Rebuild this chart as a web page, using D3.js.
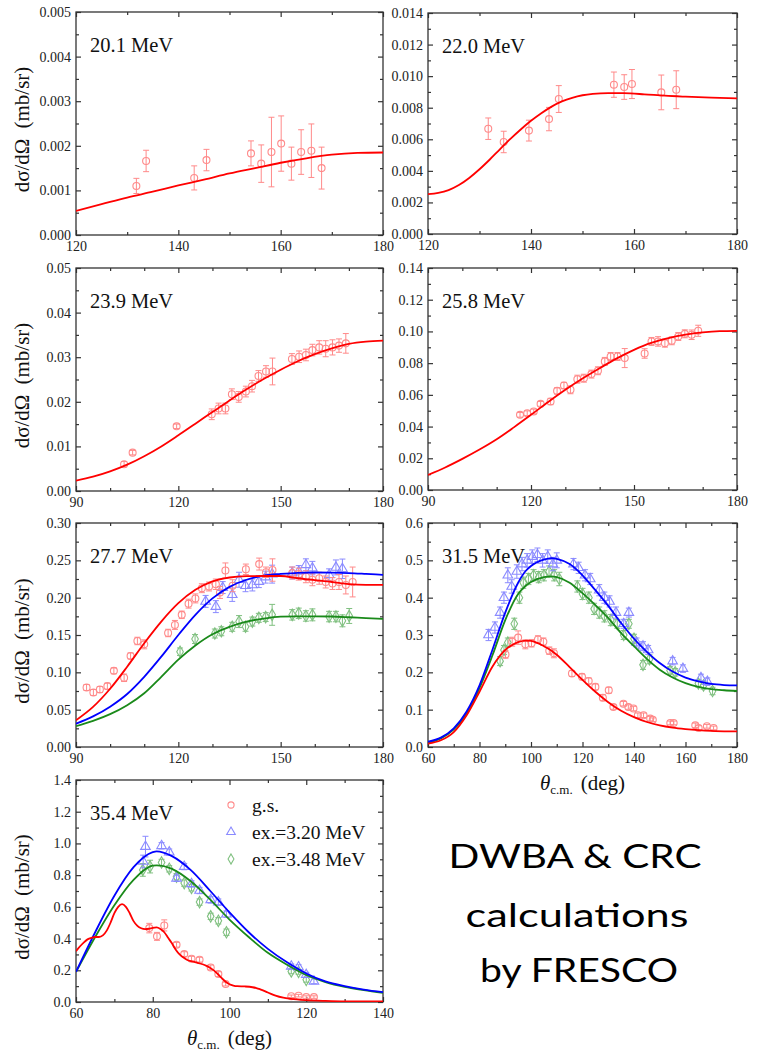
<!DOCTYPE html>
<html><head><meta charset="utf-8">
<script src="https://cdn.jsdelivr.net/npm/d3@7"></script>
<style>
body{margin:0;background:#fff}svg{display:block}
svg text{font-family:"Liberation Serif","Times New Roman",serif}
svg text.note{font-family:Lato,"Open Sans",sans-serif}
</style>
</head><body>
<svg id="c" width="761" height="1053"></svg>
<script>
// ---------- DATA (theta in deg, dsigma/dOmega in mb/sr, error) ----------
// 20.1 MeV
const th201 = [120,125,130,135,140,145,150,155,160,165,170,175,180];
const gs201 = [0.00054,0.00069,0.00084,0.00097,0.00111,0.00124,0.00138,0.00150,0.00162,0.00172,0.00180,0.00184,0.00185];
const exp201 = [[131.8,0.00110,0.00017],[133.7,0.00166,0.00024],[143.1,0.00128,0.00027],[145.5,0.00168,0.00024],[154.2,0.00183,0.00028],[156.2,0.00160,0.00042],[158.2,0.00186,0.00078],[160.1,0.00205,0.00062],[162.1,0.00160,0.00037],[164.0,0.00186,0.00050],[166.0,0.00189,0.00060],[168.0,0.00150,0.00047]];
// 22.0 MeV
const th220 = [120,122,124,126,128,130,132,134,136,138,140,142,144,146,148,150,152,155,158,162,166,170,175,180];
const gs220 = [0.00252,0.00260,0.00278,0.00310,0.00355,0.00410,0.00472,0.00538,0.00602,0.00662,0.00717,0.00765,0.00807,0.00840,0.00863,0.00879,0.00888,0.00893,0.00892,0.00885,0.00876,0.00870,0.00864,0.00859];
const exp220 = [[131.7,0.00667,0.00068],[134.7,0.00583,0.00068],[139.6,0.00655,0.00066],[143.5,0.00728,0.00074],[145.4,0.00855,0.00085],[156.1,0.00946,0.00080],[158.1,0.00931,0.00078],[159.6,0.00950,0.00092],[165.3,0.00897,0.00110],[168.2,0.00914,0.00120]];
// 23.9 MeV
const th239 = [90,95,100,105,110,115,120,125,130,135,140,145,150,155,160,165,170,175,180];
const gs239 = [0.0023,0.0032,0.0044,0.0059,0.0078,0.0100,0.0125,0.0151,0.0177,0.0203,0.0228,0.0251,0.0272,0.0291,0.0307,0.0320,0.0330,0.0335,0.0337];
const exp239 = [[104.1,0.0060,0.0006],[106.6,0.0086,0.0005],[119.5,0.0145,0.0005],[129.8,0.0172,0.0012],[131.8,0.0185,0.0012],[133.8,0.0185,0.0012],[135.7,0.0217,0.0012],[137.7,0.0211,0.0012],[139.8,0.0223,0.0012],[141.6,0.0235,0.0013],[143.5,0.0258,0.0012],[145.7,0.0268,0.0013],[147.6,0.0268,0.0030],[153.3,0.0296,0.0012],[155.4,0.0301,0.0013],[157.4,0.0305,0.0013],[159.3,0.0316,0.0013],[161.3,0.0322,0.0015],[163.2,0.0319,0.0018],[165.2,0.0322,0.0017],[167.1,0.0326,0.0015],[169.1,0.0331,0.0022]];
// 25.8 MeV
const th258 = [90,95,100,105,110,115,120,125,130,135,140,145,150,155,160,165,170,175,180];
const gs258 = [0.0095,0.0142,0.0196,0.0255,0.0320,0.0395,0.0474,0.0555,0.0632,0.0703,0.0768,0.0830,0.0884,0.0928,0.0958,0.0980,0.0994,0.1002,0.1004];
const exp258 = [[116.8,0.0474,0.0015],[118.9,0.0484,0.0015],[120.8,0.0495,0.0015],[122.8,0.0543,0.0015],[125.7,0.0558,0.0020],[127.6,0.0625,0.0020],[129.6,0.0659,0.0020],[131.5,0.0632,0.0025],[133.5,0.0699,0.0025],[135.4,0.0705,0.0025],[137.6,0.0731,0.0025],[139.5,0.0752,0.0025],[141.5,0.0811,0.0025],[143.2,0.0842,0.0025],[145.2,0.0842,0.0025],[147.3,0.0832,0.0060],[153.1,0.0861,0.0030],[155.1,0.0937,0.0025],[157.0,0.0937,0.0030],[159.0,0.0926,0.0025],[161.0,0.0941,0.0025],[162.9,0.0968,0.0025],[164.8,0.0985,0.0025],[166.8,0.0979,0.0030],[168.7,0.1004,0.0035]];
// 27.7 MeV
const th277 = [90,95,100,105,110,115,120,125,130,135,140,145,150,155,160,165,170,175,180];
const gs277 = [0.0358,0.0537,0.078,0.1075,0.139,0.168,0.1926,0.2105,0.2217,0.227,0.2288,0.229,0.229,0.226,0.2235,0.221,0.218,0.217,0.217];
const ex320_277 = [0.0313,0.041,0.054,0.071,0.094,0.121,0.150,0.177,0.199,0.2145,0.224,0.2295,0.2318,0.2333,0.2337,0.2335,0.2329,0.2318,0.2306];
const ex348_277 = [0.028,0.035,0.044,0.056,0.072,0.094,0.117,0.136,0.151,0.161,0.168,0.172,0.1745,0.175,0.175,0.1748,0.1738,0.1725,0.1715];
const expGs277 = [[93.1,0.0797,0.004],[95.1,0.073,0.004],[97.0,0.077,0.004],[99.2,0.0815,0.004],[101.1,0.102,0.004],[104.1,0.0927,0.005],[106.0,0.122,0.004],[108.0,0.142,0.005],[110.0,0.1375,0.006],[117.0,0.1527,0.005],[119.0,0.1635,0.006],[121.0,0.177,0.005],[123.0,0.192,0.006],[125.0,0.199,0.006],[126.9,0.2127,0.006],[129.0,0.215,0.006],[131.0,0.218,0.007],[132.2,0.207,0.008],[133.8,0.2365,0.010],[135.9,0.216,0.008],[139.8,0.238,0.007],[143.7,0.245,0.008],[145.7,0.234,0.007],[147.6,0.237,0.015],[153.4,0.233,0.008],[155.3,0.2315,0.008],[157.4,0.228,0.008],[159.3,0.224,0.008],[161.3,0.226,0.008],[163.2,0.221,0.008],[165.2,0.219,0.008],[167.1,0.221,0.010],[169.1,0.217,0.012],[171.1,0.221,0.020]];
const expEx320_277 = [[128.0,0.195,0.008],[131.0,0.188,0.008],[133.0,0.2135,0.008],[135.8,0.204,0.009],[137.8,0.224,0.010],[139.7,0.216,0.008],[141.7,0.217,0.008],[143.6,0.2215,0.008],[145.6,0.2275,0.008],[147.5,0.2315,0.012],[153.4,0.233,0.008],[155.3,0.235,0.008],[157.4,0.244,0.008],[159.3,0.2396,0.009],[164.2,0.2306,0.008],[166.2,0.2405,0.010],[168.1,0.2387,0.013]];
const expEx348_277 = [[120.5,0.1276,0.005],[124.9,0.1446,0.006],[130.7,0.152,0.006],[132.6,0.155,0.006],[135.8,0.161,0.006],[137.8,0.168,0.008],[139.7,0.161,0.006],[141.7,0.168,0.006],[143.6,0.173,0.006],[145.6,0.174,0.006],[147.5,0.177,0.014],[153.4,0.177,0.007],[155.3,0.179,0.007],[157.4,0.1755,0.007],[159.3,0.177,0.008],[164.2,0.1747,0.007],[166.2,0.1747,0.007],[168.1,0.169,0.008],[170.1,0.1755,0.010]];
// 31.5 MeV
const th315 = [60,65,70,75,80,85,90,95,98,100,105,108,110,115,120,125,130,135,140,145,150,155,160,165,170,175,180];
const gs315 = [0.009,0.018,0.040,0.085,0.148,0.215,0.260,0.281,0.285,0.284,0.270,0.258,0.247,0.214,0.180,0.148,0.120,0.097,0.080,0.067,0.058,0.052,0.048,0.045,0.043,0.042,0.042];
const ex320_315 = [0.014,0.025,0.050,0.095,0.165,0.260,0.360,0.440,0.472,0.485,0.502,0.506,0.504,0.490,0.460,0.420,0.378,0.332,0.290,0.255,0.225,0.202,0.186,0.176,0.169,0.166,0.165];
const ex348_315 = [0.012,0.023,0.047,0.090,0.158,0.245,0.340,0.410,0.432,0.442,0.455,0.457,0.455,0.440,0.412,0.380,0.345,0.305,0.270,0.236,0.207,0.186,0.171,0.161,0.155,0.152,0.150];
const expGs315 = [[90.1,0.248,0.010],[92.7,0.282,0.012],[95.0,0.293,0.018],[97.8,0.275,0.012],[100.2,0.278,0.010],[102.7,0.288,0.010],[104.8,0.282,0.010],[107.1,0.258,0.010],[108.9,0.251,0.012],[115.9,0.197,0.008],[119.8,0.188,0.008],[122.4,0.177,0.008],[125.0,0.161,0.008],[127.9,0.132,0.008],[130.2,0.152,0.008],[132.0,0.107,0.006],[135.9,0.116,0.006],[137.8,0.107,0.006],[139.8,0.103,0.006],[141.5,0.085,0.006],[143.7,0.085,0.006],[146.3,0.076,0.006],[147.3,0.073,0.005],[154.1,0.0645,0.005],[155.4,0.0645,0.005],[163.8,0.058,0.006],[165.1,0.051,0.006],[168.3,0.0555,0.005],[170.9,0.051,0.005]];
const expEx320_315 = [[83.5,0.30,0.015],[86.0,0.32,0.015],[88.0,0.36,0.015],[89.5,0.40,0.015],[91.0,0.46,0.020],[92.5,0.43,0.018],[94.5,0.47,0.018],[96.5,0.49,0.018],[98.5,0.50,0.018],[100.5,0.51,0.018],[102.5,0.515,0.018],[104.5,0.50,0.018],[106.5,0.51,0.018],[108.5,0.49,0.018],[110.0,0.50,0.020],[116.5,0.49,0.015],[118.5,0.48,0.015],[121.0,0.46,0.015],[123.0,0.45,0.015],[126.5,0.42,0.015],[128.5,0.40,0.015],[130.5,0.39,0.015],[133.0,0.36,0.015],[136.0,0.33,0.012],[138.0,0.36,0.012],[141.0,0.28,0.012],[143.5,0.27,0.012],[145.5,0.26,0.012],[155.0,0.23,0.010],[159.0,0.21,0.010],[166.0,0.185,0.010],[168.5,0.175,0.010]];
const expEx348_315 = [[88.0,0.23,0.012],[89.5,0.26,0.012],[91.0,0.28,0.012],[93.5,0.33,0.015],[95.5,0.40,0.015],[97.0,0.44,0.015],[99.0,0.45,0.015],[101.0,0.46,0.015],[103.0,0.455,0.015],[105.0,0.46,0.015],[107.0,0.47,0.015],[109.0,0.46,0.015],[111.0,0.45,0.018],[118.0,0.43,0.015],[120.0,0.41,0.015],[122.5,0.40,0.015],[124.5,0.37,0.015],[126.5,0.36,0.015],[128.5,0.35,0.015],[131.0,0.34,0.015],[133.5,0.33,0.012],[136.0,0.30,0.012],[138.0,0.33,0.012],[140.0,0.29,0.012],[143.5,0.22,0.012],[146.0,0.235,0.012],[154.0,0.205,0.010],[156.0,0.20,0.010],[165.0,0.17,0.010],[167.0,0.165,0.010],[170.5,0.15,0.010]];
// 35.4 MeV
const th354g = [60,61,62,63,64,65,66,67,68,69,70,71,72,73,74,75,76,77,78,79,80,81,82,83,84,85,86,87,88,89,90,91,92,93,94,95,96,97,98,99,100,101,102,104,106,107,108,110,112,114,116,120,125,130,140];
const gs354 = [0.32,0.35,0.375,0.395,0.405,0.41,0.41,0.42,0.45,0.50,0.56,0.60,0.617,0.60,0.56,0.51,0.48,0.465,0.46,0.462,0.468,0.47,0.46,0.44,0.405,0.37,0.33,0.30,0.28,0.265,0.258,0.252,0.245,0.238,0.228,0.215,0.198,0.175,0.15,0.128,0.112,0.104,0.10,0.098,0.093,0.088,0.08,0.06,0.04,0.027,0.02,0.012,0.007,0.004,0.003];
const th354 = [60,65,70,75,80,81,85,90,95,100,105,110,115,120,125,130,135,140];
const ex320_354 = [0.19,0.44,0.67,0.85,0.945,0.95,0.92,0.83,0.70,0.565,0.44,0.335,0.25,0.18,0.13,0.10,0.078,0.062];
const ex348_354 = [0.19,0.41,0.61,0.77,0.86,0.862,0.84,0.76,0.645,0.52,0.41,0.31,0.235,0.17,0.125,0.095,0.075,0.058];
const expGs354 = [[79.1,0.466,0.03],[81.1,0.414,0.025],[83.0,0.483,0.035],[86.2,0.361,0.015],[88.2,0.302,0.015],[90.1,0.273,0.015],[92.2,0.267,0.015],[95.1,0.218,0.015],[97.1,0.176,0.015],[99.0,0.113,0.012],[116.1,0.036,0.008],[118.0,0.040,0.008],[120.0,0.031,0.008],[122.0,0.031,0.008]];
const expEx320_354 = [[77.5,0.886,0.04],[78.1,0.98,0.065],[82.3,0.985,0.02],[84.3,0.945,0.02],[86.2,0.78,0.02],[88.2,0.854,0.02],[90.1,0.745,0.02],[92.2,0.703,0.02],[95.1,0.644,0.02],[97.1,0.63,0.02],[99.2,0.554,0.02],[116.1,0.225,0.015],[118.0,0.22,0.015],[120.0,0.172,0.015],[122.0,0.13,0.015]];
const expEx348_354 = [[77.4,0.833,0.04],[79.3,0.854,0.04],[82.3,0.88,0.02],[84.3,0.84,0.02],[86.2,0.79,0.02],[88.2,0.75,0.02],[90.1,0.72,0.02],[92.2,0.63,0.02],[95.1,0.54,0.02],[97.1,0.512,0.02],[99.2,0.44,0.02],[116.1,0.193,0.015],[118.0,0.19,0.015],[120.0,0.14,0.015]];

const energyLabels = ['20.1 MeV','22.0 MeV','23.9 MeV','25.8 MeV','27.7 MeV','31.5 MeV','35.4 MeV'];
const legendLabels = ['g.s.','ex.=3.20 MeV','ex.=3.48 MeV'];
const noteLines = ['DWBA & CRC','calculations','by FRESCO'];

// ---------- STYLE / LAYOUT ----------
const COL = {
  gs:   {line:'#ff0000', mark:'#ff8a8a'},
  e320: {line:'#0000ff', mark:'#8a8aff'},
  e348: {line:'#1a8a1a', mark:'#80c080'}
};
const SERIF = '"Liberation Serif","Times New Roman",serif';
const zip = (t,v) => t.map((d,i)=>[d,v[i]]);

const panels = [
  {label:energyLabels[0], box:[76,12,383,235], xd:[120,180], xs:20, xm:10, yd:[0,0.005], ys:0.001, ym:0.0005, fmt:'.3f', ylab:true,
   series:[{k:'gs', curve:zip(th201,gs201), exp:exp201, sym:'circle'}]},
  {label:energyLabels[1], box:[428,13,737,234], xd:[120,180], xs:20, xm:10, yd:[0,0.014], ys:0.002, ym:0.001, fmt:'.3f',
   series:[{k:'gs', curve:zip(th220,gs220), exp:exp220, sym:'circle'}]},
  {label:energyLabels[2], box:[76,268,383,491], xd:[90,180], xs:30, xm:10, yd:[0,0.05], ys:0.01, ym:0.005, fmt:'.2f', ylab:true,
   series:[{k:'gs', curve:zip(th239,gs239), exp:exp239, sym:'circle'}]},
  {label:energyLabels[3], box:[428,268,737,490], xd:[90,180], xs:30, xm:10, yd:[0,0.14], ys:0.02, ym:0.01, fmt:'.2f',
   series:[{k:'gs', curve:zip(th258,gs258), exp:exp258, sym:'circle'}]},
  {label:energyLabels[4], box:[76,523,383,747], xd:[90,180], xs:30, xm:10, yd:[0,0.30], ys:0.05, ym:0.025, fmt:'.2f', ylab:true,
   series:[
     {k:'e348', curve:zip(th277,ex348_277), exp:expEx348_277, sym:'diamond'},
     {k:'e320', curve:zip(th277,ex320_277), exp:expEx320_277, sym:'triangle'},
     {k:'gs', curve:zip(th277,gs277), exp:expGs277, sym:'circle'}]},
  {label:energyLabels[5], box:[428,523,737,747], xd:[60,180], xs:20, xm:10, yd:[0,0.6], ys:0.1, ym:0.05, fmt:'.1f', xlab:true,
   series:[
     {k:'e348', curve:zip(th315,ex348_315), exp:expEx348_315, sym:'diamond'},
     {k:'e320', curve:zip(th315,ex320_315), exp:expEx320_315, sym:'triangle'},
     {k:'gs', curve:zip(th315,gs315), exp:expGs315, sym:'circle'}]},
  {label:energyLabels[6], box:[76,780,383,1002], xd:[60,140], xs:20, xm:10, yd:[0,1.4], ys:0.2, ym:0.1, fmt:'.1f', ylab:true, xlab:true, legend:true,
   series:[
     {k:'e348', curve:zip(th354,ex348_354), exp:expEx348_354, sym:'diamond'},
     {k:'e320', curve:zip(th354,ex320_354), exp:expEx320_354, sym:'triangle'},
     {k:'gs', curve:zip(th354g,gs354), exp:expGs354, sym:'circle'}]}
];

const svg = d3.select('#c');
const symGen = {
  circle: d3.symbol().type(d3.symbolCircle).size(38),
  triangle: d3.symbol().type(d3.symbolTriangle).size(40),
  diamond: d3.symbol().type(d3.symbolDiamond).size(38)
};
const legSym = {
  circle: d3.symbol().type(d3.symbolCircle).size(30),
  triangle: d3.symbol().type(d3.symbolTriangle).size(32),
  diamond: d3.symbol().type(d3.symbolDiamond).size(30)
};
function rng(a,b,s){const out=[];const n=Math.round((b-a)/s);for(let i=0;i<=n;i++)out.push(+(a+i*s).toFixed(6));return out;}

panels.forEach((p,pi)=>{
  const [x0,y0,x1,y1] = p.box;
  const x = d3.scaleLinear().domain(p.xd).range([x0,x1]);
  const y = d3.scaleLinear().domain(p.yd).range([y1,y0]);
  const g = svg.append('g');
  const cid = 'clip'+pi;
  svg.append('clipPath').attr('id',cid).append('rect').attr('x',x0).attr('y',y0).attr('width',x1-x0).attr('height',y1-y0);

  const xMaj = rng(p.xd[0],p.xd[1],p.xs), xMin = rng(p.xd[0],p.xd[1],p.xm).filter(v=>!xMaj.some(m=>Math.abs(m-v)<1e-9));
  const yMaj = rng(p.yd[0],p.yd[1],p.ys), yMin = rng(p.yd[0],p.yd[1],p.ym).filter(v=>!yMaj.some(m=>Math.abs(m-v)<1e-9));

  const axes = [
    [d3.axisBottom(x).tickValues(xMaj).tickSize(-5).tickPadding(6).tickFormat(d3.format('d')), `translate(0,${y1})`],
    [d3.axisBottom(x).tickValues(xMin).tickSize(-3).tickFormat(''), `translate(0,${y1})`],
    [d3.axisTop(x).tickValues(xMaj).tickSize(-5).tickFormat(''), `translate(0,${y0})`],
    [d3.axisTop(x).tickValues(xMin).tickSize(-3).tickFormat(''), `translate(0,${y0})`],
    [d3.axisLeft(y).tickValues(yMaj).tickSize(-5).tickPadding(5).tickFormat(d3.format(p.fmt)), `translate(${x0},0)`],
    [d3.axisLeft(y).tickValues(yMin).tickSize(-3).tickFormat(''), `translate(${x0},0)`],
    [d3.axisRight(y).tickValues(yMaj).tickSize(-5).tickFormat(''), `translate(${x1},0)`],
    [d3.axisRight(y).tickValues(yMin).tickSize(-3).tickFormat(''), `translate(${x1},0)`]
  ];
  axes.forEach(([ax,tr])=>{
    const a = g.append('g').attr('transform',tr).call(ax).attr('font-family',SERIF).attr('font-size',14);
    a.select('.domain').remove();
    a.selectAll('line').attr('stroke','#333').attr('stroke-width',1.2);
    a.selectAll('text').attr('fill','#222').attr('font-family',SERIF).style('font-family',SERIF).style('font-size','14px');
  });
  g.append('rect').attr('x',x0).attr('y',y0).attr('width',x1-x0).attr('height',y1-y0)
    .attr('fill','none').attr('stroke','#333').attr('stroke-width',1.3);

  const line = d3.line().x(d=>x(d[0])).y(d=>y(d[1])).curve(d3.curveMonotoneX);
  p.series.forEach(s=>{
    const c = COL[s.k].mark;
    const eg = g.append('g').attr('stroke',c).attr('stroke-width',1).attr('fill','none');
    s.exp.forEach(d=>{
      const cx = x(d[0]), yt = y(d[1]+d[2]), yb = y(d[1]-d[2]);
      eg.append('line').attr('x1',cx).attr('x2',cx).attr('y1',yt).attr('y2',yb);
      eg.append('line').attr('x1',cx-3).attr('x2',cx+3).attr('y1',yt).attr('y2',yt);
      eg.append('line').attr('x1',cx-3).attr('x2',cx+3).attr('y1',yb).attr('y2',yb);
      eg.append('path').attr('d',symGen[s.sym]()).attr('transform',`translate(${cx},${y(d[1])})`).attr('stroke-width',1.1);
    });
  });
  p.series.forEach(s=>{
    g.append('path').datum(s.curve).attr('d',line).attr('clip-path',`url(#${cid})`)
      .attr('fill','none').attr('stroke',COL[s.k].line).attr('stroke-width',1.8);
  });

  g.append('text').attr('x',x0+14).attr('y',y0+40).text(p.label)
    .attr('font-family',SERIF).style('font-size','20.5px').attr('fill','#111');

  if(p.ylab){
    const t = g.append('text').attr('transform',`translate(${x0-47},${(y0+y1)/2+6}) rotate(-90)`)
      .attr('text-anchor','middle').attr('font-family',SERIF).style('font-size','21px').attr('fill','#111');
    t.append('tspan').text('dσ/dΩ');
    t.append('tspan').attr('dx',10).text('(mb/sr)');
  }
  if(p.xlab){
    const t = g.append('text').attr('x',(x0+x1)/2).attr('y',y1+43).attr('text-anchor','middle')
      .attr('font-family',SERIF).style('font-size','21px').attr('fill','#111');
    t.append('tspan').style('font-style','italic').text('θ');
    t.append('tspan').attr('dy',4).style('font-size','13px').text('c.m.');
    t.append('tspan').attr('dy',-4).attr('dx',8).text('(deg)');
  }
  if(p.legend){
    const keys = [['gs','circle'],['e320','triangle'],['e348','diamond']];
    keys.forEach(([k,sym],i)=>{
      const ly = 805 + i*27;
      g.append('path').attr('d',legSym[sym]()).attr('transform',`translate(231,${ly})`)
        .attr('fill','none').attr('stroke',COL[k].mark).attr('stroke-width',1.1);
      g.append('text').attr('x',252).attr('y',ly+7).text(legendLabels[i])
        .attr('font-family',SERIF).style('font-size','19.5px').attr('fill','#111');
    });
  }
});

// annotation text
const note = svg.append('g').attr('text-anchor','middle').attr('fill','#000');
[[575,868,253],[577,927,223],[579,982,198]].forEach((pos,i)=>{
  note.append('text').attr('class','note').attr('x',pos[0]).attr('y',pos[1])
    .attr('textLength',pos[2]).attr('lengthAdjust','spacingAndGlyphs')
    .style('font-size','33px').text(noteLines[i]);
});
</script>
</body></html>
